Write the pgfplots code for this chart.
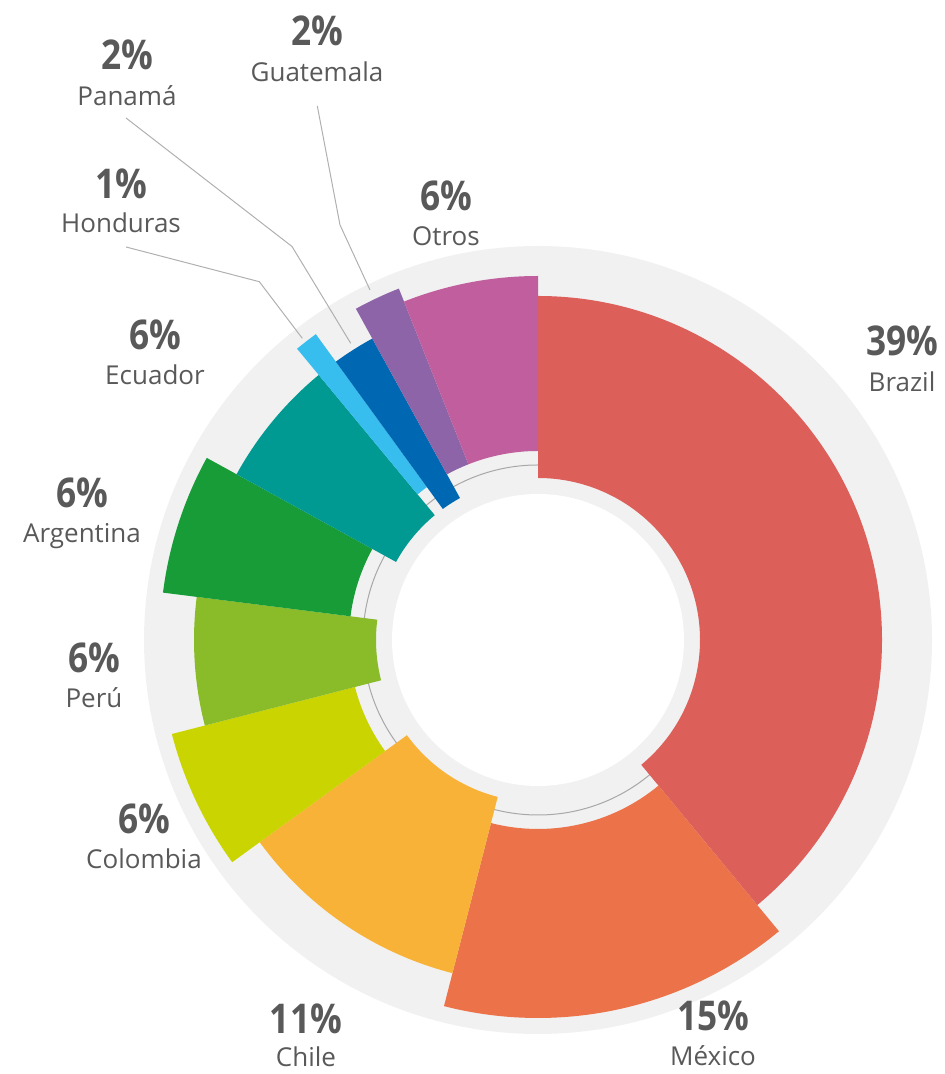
\documentclass[border=0pt]{standalone}
\usepackage{fontspec}
\setmainfont{Open Sans}
\newfontfamily\pctfont[FakeStretch=0.86]{Open Sans}
\usepackage{pgfplots}
\pgfplotsset{compat=1.18}

\definecolor{cBrazil}{HTML}{DD5F5A}
\definecolor{cMexico}{HTML}{EC7249}
\definecolor{cChile}{HTML}{F8B238}
\definecolor{cColombia}{HTML}{C9D400}
\definecolor{cPeru}{HTML}{89BC28}
\definecolor{cArgentina}{HTML}{189C37}
\definecolor{cEcuador}{HTML}{009A93}
\definecolor{cHonduras}{HTML}{38BDEF}
\definecolor{cPanama}{HTML}{0068B3}
\definecolor{cGuatemala}{HTML}{8E64A8}
\definecolor{cOtros}{HTML}{C05E9E}
\definecolor{bgGray}{HTML}{F1F1F1}
\definecolor{ringGray}{HTML}{A8A8A8}
\definecolor{leadGray}{HTML}{B0B0B0}
\definecolor{txt}{HTML}{595959}

% #1 cumulative share before the slice (%), #2 share (%), #3 inner radius, #4 outer radius, #5 colour
\newcommand{\slice}[5]{%
  \fill[#5]
    (axis cs:{#3*cos(90-3.6*#1)},{#3*sin(90-3.6*#1)})
    -- (axis cs:{#4*cos(90-3.6*#1)},{#4*sin(90-3.6*#1)})
    arc[start angle={90-3.6*#1}, end angle={90-3.6*(#1+#2)}, radius={#4*0.5pt}]
    -- (axis cs:{#3*cos(90-3.6*(#1+#2))},{#3*sin(90-3.6*(#1+#2))})
    arc[start angle={90-3.6*(#1+#2)}, end angle={90-3.6*#1}, radius={#3*0.5pt}]
    -- cycle;}

% #1 x, #2 y of percent baseline, #3 y of name baseline, #4 percent, #5 name
\newcommand{\lab}[5]{%
  \node[anchor=base, text=txt, inner sep=0pt, font=\pctfont\bfseries\fontsize{20.5}{20.5}\selectfont] at (axis cs:#1,#2) {#4\%};
  \node[anchor=base, text=txt, inner sep=0pt, font=\fontsize{13}{13}\selectfont] at (axis cs:#1,#3) {#5};}

\begin{document}
\begin{tikzpicture}
\begin{axis}[
  x=0.5pt, y=0.5pt,
  xmin=-538, xmax=406, ymin=-434, ymax=640,
  scale only axis, hide axis, clip=false,
]
\path (axis cs:-538,-434) rectangle (axis cs:406,640);

% background disc and thin ring
\fill[bgGray] (axis cs:0,0) circle[radius=197pt];
\draw[ringGray, line width=0.5pt] (axis cs:0,0) circle[radius=87.5pt];

% slices: start, share, inner r, outer r
\slice{0}{39}{162}{344}{cBrazil}
\slice{39}{15}{189}{378}{cMexico}
\slice{54}{11}{162}{344}{cChile}
\slice{65}{6}{189}{378}{cColombia}
\slice{71}{6}{162}{344}{cPeru}
\slice{77}{6}{189}{378}{cArgentina}
\slice{83}{6}{162}{344}{cEcuador}
\slice{89}{1}{189}{378}{cHonduras}
\slice{90}{2}{162}{344}{cPanama}
\slice{92}{2}{189}{378}{cGuatemala}
\slice{94}{6}{189}{364}{cOtros}

\fill[white] (axis cs:0,0) circle[radius=73pt];

% leader lines
\addplot[leadGray, line width=0.5pt, no marks] coordinates {(-412,393) (-278.7,358.3) (-235.7,301.7)};
\addplot[leadGray, line width=0.5pt, no marks] coordinates {(-412,522) (-246,393.5) (-187.3,296.7)};
\addplot[leadGray, line width=0.5pt, no marks] coordinates {(-220.7,534) (-198,415) (-168,350)};

% labels
\lab{364}{284}{248}{39}{Brazil}
\lab{175}{-391}{-425}{15}{México}
\lab{-232}{-394}{-427}{11}{Chile}
\lab{-394}{-194}{-229}{6}{Colombia}
\lab{-444}{-33}{-68}{6}{Perú}
\lab{-456}{132}{97}{6}{Argentina}
\lab{-383}{290}{255}{6}{Ecuador}
\lab{-417}{441}{407}{1}{Honduras}
\lab{-411}{570}{534}{2}{Panamá}
\lab{-221}{594}{558}{2}{Guatemala}
\lab{-92}{429}{394}{6}{Otros}
\end{axis}
\end{tikzpicture}
\end{document}
